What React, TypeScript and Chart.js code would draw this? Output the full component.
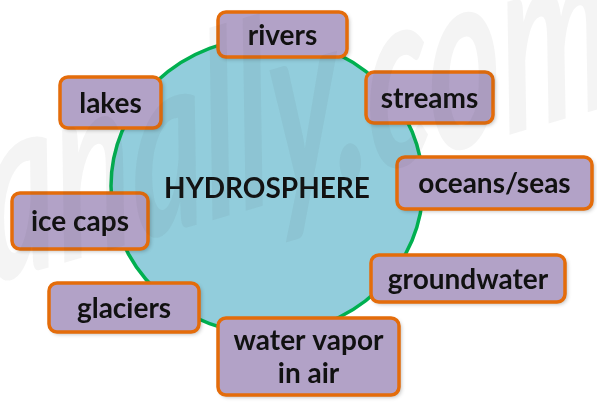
import React, { useEffect, useRef } from "react";
import { Chart, registerables } from "chart.js";

Chart.register(...registerables);

// Hub (central ellipse) — in canvas-pixel data units
const hubLabel = "HYDROSPHERE";
const hubCenterX = [267];
const hubCenterY = [186];
const hubRadiusX = 156;
const hubRadiusY = 148;

// Surrounding boxes
const boxLabels = ["rivers", "lakes", "streams", "oceans/seas", "ice caps", "groundwater", "glaciers", "water vapor\nin air"];
const boxCenterX = [282.5, 110.5, 429.5, 494.5, 80, 468, 124, 308.5];
const boxCenterY = [34.5, 102.5, 97.5, 183, 221, 278.5, 307.5, 356.5];
const boxWidth = [129, 101, 127, 195, 136, 194, 150, 181];
const boxHeight = [45, 51, 51, 52, 56, 47, 49, 77];

const watermarkText = "Panally.com";

const FONT = "Lato, 'Open Sans', sans-serif";

const diagramPlugin = {
  id: "diagram",
  afterDatasetsDraw(chart: any) {
    const ctx: CanvasRenderingContext2D = chart.ctx;
    const xs = chart.scales.x;
    const ys = chart.scales.y;
    const sx = (v: number) => Math.abs(xs.getPixelForValue(v) - xs.getPixelForValue(0));
    const sy = (v: number) => Math.abs(ys.getPixelForValue(v) - ys.getPixelForValue(0));

    // hub ellipse
    const hp = chart.getDatasetMeta(0).data[0];
    ctx.save();
    ctx.beginPath();
    ctx.ellipse(hp.x, hp.y, sx(hubRadiusX), sy(hubRadiusY), 0, 0, Math.PI * 2);
    ctx.fillStyle = "#92CDDC";
    ctx.fill();
    ctx.lineWidth = 3.5;
    ctx.strokeStyle = "#00B050";
    ctx.stroke();
    ctx.fillStyle = "#111111";
    ctx.font = `bold 28px ${FONT}`;
    ctx.textAlign = "center";
    ctx.textBaseline = "middle";
    ctx.fillText(hubLabel, hp.x, hp.y + 3);
    ctx.restore();

    // boxes
    const meta = chart.getDatasetMeta(1);
    meta.data.forEach((el: any, i: number) => {
      const w = sx(boxWidth[i]);
      const h = sy(boxHeight[i]);
      const x = el.x - w / 2;
      const y = el.y - h / 2;
      ctx.save();
      ctx.beginPath();
      ctx.roundRect(x, y, w, h, 8);
      ctx.shadowColor = "rgba(0,0,0,0.3)";
      ctx.shadowBlur = 4;
      ctx.shadowOffsetX = 2;
      ctx.shadowOffsetY = 2;
      ctx.fillStyle = "#B2A2C7";
      ctx.fill();
      ctx.shadowColor = "transparent";
      ctx.lineWidth = 3.5;
      ctx.strokeStyle = "#E46C0A";
      ctx.stroke();
      ctx.fillStyle = "#111111";
      ctx.font = `bold 28px ${FONT}`;
      ctx.textAlign = "center";
      ctx.textBaseline = "middle";
      const lines = boxLabels[i].split("\n");
      const lh = 33;
      lines.forEach((ln, j) => {
        ctx.fillText(ln, el.x, el.y + (j - (lines.length - 1) / 2) * lh + 1);
      });
      ctx.restore();
    });
  },
  afterDraw(chart: any) {
    const ctx: CanvasRenderingContext2D = chart.ctx;
    ctx.save();
    ctx.translate(265, 205);
    ctx.rotate(-0.28);
    ctx.transform(0.58, 0, -0.2, 1, 0, 0);
    ctx.fillStyle = "rgba(60,60,60,0.06)";
    ctx.font = `italic bold 250px ${FONT}`;
    ctx.textAlign = "center";
    ctx.textBaseline = "alphabetic";
    ctx.fillText(watermarkText, 0, 0);
    ctx.restore();
  },
};

export default function App() {
  const ref = useRef<HTMLCanvasElement>(null);
  useEffect(() => {
    if (!ref.current) return;
    const chart = new Chart(ref.current, {
      type: "scatter",
      data: {
        datasets: [
          {
            label: hubLabel,
            data: hubCenterX.map((x, i) => ({ x, y: hubCenterY[i] })),
            pointRadius: 0,
          },
          {
            label: "parts",
            data: boxCenterX.map((x, i) => ({ x, y: boxCenterY[i] })),
            pointRadius: 0,
          },
        ],
      },
      options: {
        animation: false,
        responsive: true,
        maintainAspectRatio: false,
        layout: { padding: 0 },
        plugins: { legend: { display: false }, tooltip: { enabled: false } },
        scales: {
          x: { type: "linear", min: 0, max: 597, display: false },
          y: { type: "linear", min: 0, max: 402, reverse: true, display: false },
        },
      },
      plugins: [diagramPlugin],
    });
    return () => chart.destroy();
  }, []);
  return (
    <div style={{ position: "fixed", left: 0, top: 0, width: 597, height: 402, background: "#fff" }}>
      <canvas ref={ref} />
    </div>
  );
}
